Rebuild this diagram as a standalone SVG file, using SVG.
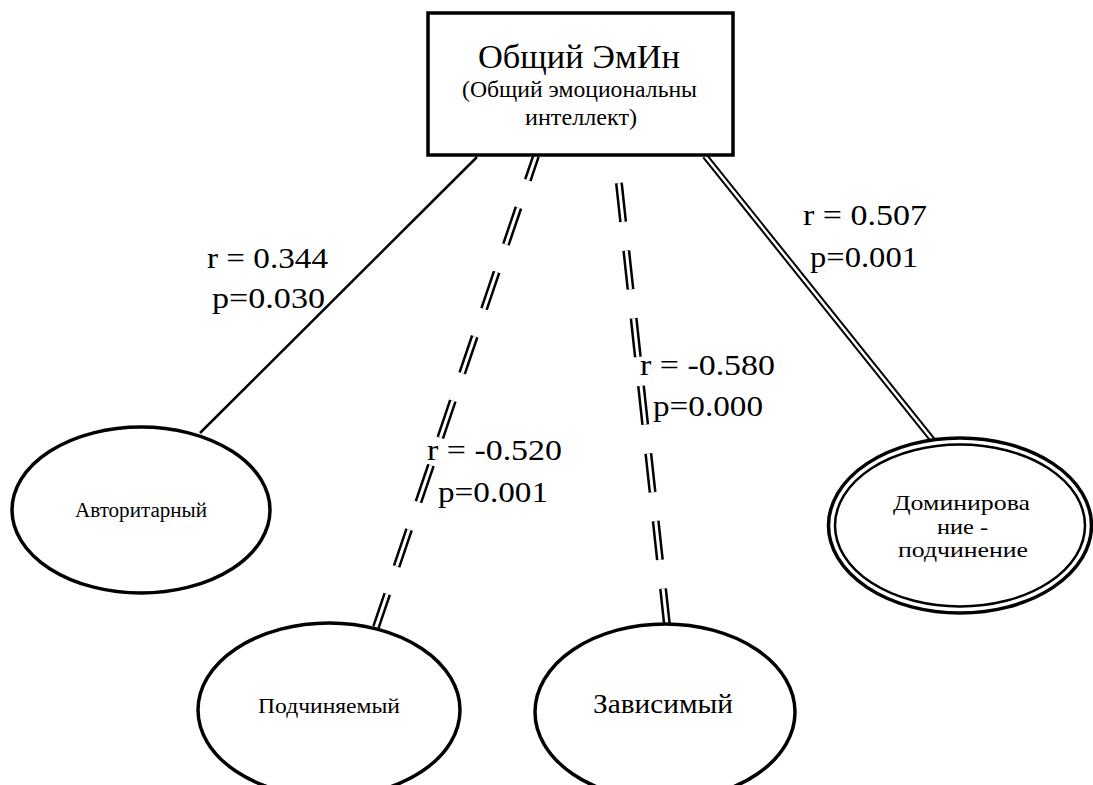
<svg xmlns="http://www.w3.org/2000/svg" width="1093" height="785" viewBox="0 0 1093 785">
  <style>
    .node { fill: #fff; stroke: #000; stroke-width: 3.5; }
    .thin { fill: none; stroke: #000; stroke-width: 2.5; }
    .solid { stroke: #000; stroke-width: 2.5; fill: none; }
    .dbl-o { stroke: #000; stroke-width: 6.5; fill: none; }
    .dbl-i { stroke: #fff; stroke-width: 2.5; fill: none; }
    .dsh-o { stroke: #000; stroke-width: 8; fill: none; stroke-dasharray: 39 29; }
    .dsh-i { stroke: #fff; stroke-width: 3; fill: none; stroke-dasharray: 39 29; }
  </style>
  <rect width="1093" height="785" fill="#fff"/>

  <g id="connectors">
    <line class="solid" x1="477" y1="157" x2="200" y2="433"/>
    <g id="c-podch">
      <line class="dsh-o" x1="536" y1="156" x2="376" y2="627" stroke-dashoffset="13.5"/>
      <line class="dsh-i" x1="536" y1="156" x2="376" y2="627" stroke-dashoffset="13.5"/>
    </g>
    <g id="c-zavis">
      <line class="dsh-o" x1="616" y1="156" x2="667" y2="625" stroke-dashoffset="40.8"/>
      <line class="dsh-i" x1="616" y1="156" x2="667" y2="625" stroke-dashoffset="40.8"/>
    </g>
    <g id="c-domin">
      <line class="dbl-o" x1="705" y1="156" x2="935" y2="443"/>
      <line class="dbl-i" x1="705" y1="156" x2="935" y2="443"/>
    </g>
  </g>

  <g id="labels" font-family="'Liberation Serif', 'DejaVu Serif', serif" font-size="30" fill="#000">
    <text x="207" y="268" textLength="121" lengthAdjust="spacingAndGlyphs">r = 0.344</text>
    <text x="212" y="308" textLength="113" lengthAdjust="spacingAndGlyphs">p=0.030</text>
    <text x="803" y="225" textLength="124" lengthAdjust="spacingAndGlyphs">r = 0.507</text>
    <text x="810" y="267" textLength="108" lengthAdjust="spacingAndGlyphs">p=0.001</text>
    <text x="427" y="460" textLength="135" lengthAdjust="spacingAndGlyphs">r = -0.520</text>
    <text x="438" y="502" textLength="110" lengthAdjust="spacingAndGlyphs">p=0.001</text>
    <text x="640" y="375" textLength="135" lengthAdjust="spacingAndGlyphs">r = -0.580</text>
    <text x="653" y="416" textLength="110" lengthAdjust="spacingAndGlyphs">p=0.000</text>
  </g>

  <g id="node-emin" font-family="'Liberation Serif', 'DejaVu Serif', serif" fill="#000">
    <rect class="node" x="428" y="13" width="305" height="142"/>
    <text x="579" y="68" font-size="34" text-anchor="middle" textLength="202" lengthAdjust="spacingAndGlyphs">Общий ЭмИн</text>
    <text x="579.5" y="97" font-size="23" text-anchor="middle" textLength="235" lengthAdjust="spacingAndGlyphs">(Общий эмоциональны</text>
    <text x="581" y="125" font-size="23" text-anchor="middle" textLength="112" lengthAdjust="spacingAndGlyphs">интеллект)</text>
  </g>

  <g id="node-avtor" font-family="'Liberation Serif', 'DejaVu Serif', serif" fill="#000">
    <ellipse class="node" cx="141" cy="510" rx="129" ry="83"/>
    <text x="141" y="517" font-size="20" text-anchor="middle" textLength="132" lengthAdjust="spacingAndGlyphs">Авторитарный</text>
  </g>

  <g id="node-podch" font-family="'Liberation Serif', 'DejaVu Serif', serif" fill="#000">
    <ellipse class="node" cx="329" cy="710" rx="131" ry="87"/>
    <text x="329" y="713" font-size="21" text-anchor="middle" textLength="142" lengthAdjust="spacingAndGlyphs">Подчиняемый</text>
  </g>

  <g id="node-zavis" font-family="'Liberation Serif', 'DejaVu Serif', serif" fill="#000">
    <ellipse class="node" cx="665" cy="712" rx="130" ry="88"/>
    <text x="663" y="713" font-size="28" text-anchor="middle" textLength="140" lengthAdjust="spacingAndGlyphs">Зависимый</text>
  </g>

  <g id="node-domin" font-family="'Liberation Serif', 'DejaVu Serif', serif" fill="#000">
    <ellipse class="node" cx="960" cy="525.5" rx="131.5" ry="87.5" stroke-width="3"/>
    <ellipse class="thin" cx="960" cy="525.5" rx="125" ry="81" stroke-width="2.5"/>
    <text x="961.5" y="510" font-size="22" text-anchor="middle" textLength="137" lengthAdjust="spacingAndGlyphs">Доминирова</text>
    <text x="962.5" y="533.5" font-size="22" text-anchor="middle" textLength="51" lengthAdjust="spacingAndGlyphs">ние -</text>
    <text x="963" y="557" font-size="22" text-anchor="middle" textLength="130" lengthAdjust="spacingAndGlyphs">подчинение</text>
  </g>
</svg>
